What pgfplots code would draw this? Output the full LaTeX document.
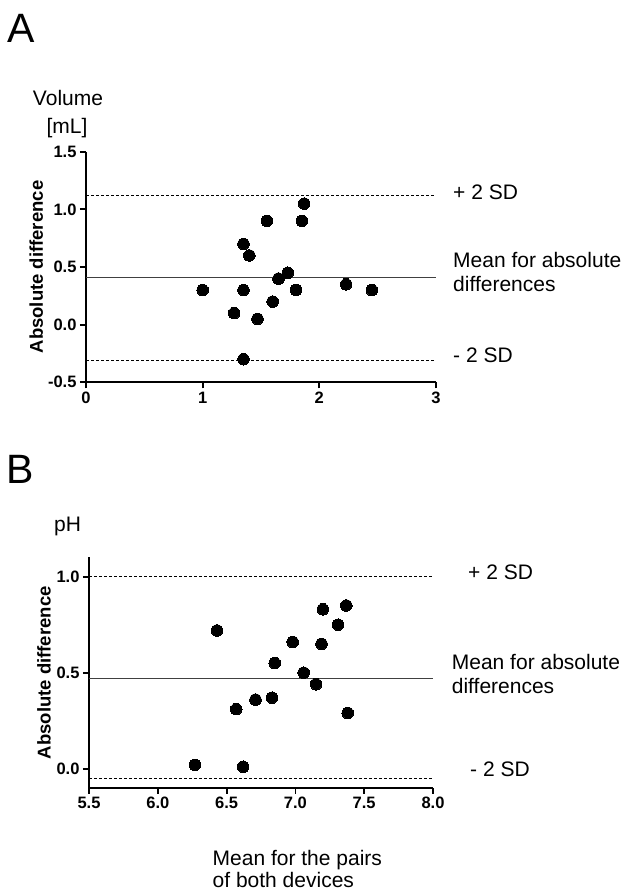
\documentclass[border=0pt]{standalone}
\usepackage{fontspec}
\setmainfont{Liberation Sans}
\usepackage{pgfplots}
\usepackage{pgfplotstable}
\pgfplotsset{compat=1.18}

\pgfplotstableread{
x y
1.00 0.30
1.27 0.10
1.35 0.70
1.35 0.30
1.35 -0.30
1.40 0.60
1.47 0.05
1.55 0.90
1.60 0.20
1.65 0.40
1.73 0.45
1.80 0.30
1.85 0.90
1.87 1.05
2.23 0.35
2.45 0.30
}\dataA

\pgfplotstableread{
x y
6.27 0.02
6.43 0.72
6.57 0.31
6.62 0.01
6.71 0.36
6.83 0.37
6.85 0.55
6.98 0.66
7.06 0.50
7.15 0.44
7.19 0.65
7.20 0.83
7.31 0.75
7.37 0.85
7.38 0.29
}\dataB

\pgfplotsset{
 gp/.style={
  scale only axis, clip=false,
  axis lines*=left,
  axis line style={line width=1.8pt},
  tick style={line width=1.8pt, black},
  major tick length=6pt,
  tick align=outside,
  tick label style={font=\fontsize{16.5}{19}\selectfont\bfseries},
 },
 dots/.style={only marks, mark=*, mark size=5.8pt, mark options={fill=black, draw=black, line width=0pt}},
 sd/.style={black, line width=0.8pt, dash pattern=on 3pt off 2pt, mark=none},
 mn/.style={black!75, line width=1pt, mark=none},
}

\newcommand{\txt}{\fontsize{21}{24}\selectfont}

\begin{document}
\begin{tikzpicture}[x=1pt,y=1pt]
\useasboundingbox (0,0) rectangle (630,892);

% Panel A
\begin{axis}[gp, at={(86pt,509.7pt)}, anchor=south west,
  width=350pt, height=230.6pt,
  xmin=0, xmax=3, ymin=-0.5, ymax=1.5,
  xtick={0,1,2,3}, xticklabels={0,1,2,3},
  ytick={-0.5,0,0.5,1,1.5}, yticklabels={-0.5,0.0,0.5,1.0,1.5}]
\addplot[sd] coordinates {(0,1.121) (3,1.121)};
\addplot[mn] coordinates {(0,0.405) (3,0.405)};
\addplot[sd] coordinates {(0,-0.309) (3,-0.309)};
\addplot[dots] table[x=x,y=y] {\dataA};
\node[rotate=90, anchor=base, inner sep=0, font=\fontsize{18.5}{21}\selectfont\bfseries] at (axis cs:-0.3686,0.5) {Absolute difference};
\end{axis}

% Panel B
\begin{axis}[gp, at={(89pt,104.1pt)}, anchor=south west,
  width=344pt, height=230.4pt,
  xmin=5.5, xmax=8.0, ymin=-0.1, ymax=1.1,
  xtick={5.5,6,6.5,7,7.5,8}, xticklabels={5.5,6.0,6.5,7.0,7.5,8.0},
  ytick={0,0.5,1}, yticklabels={0.0,0.5,1.0}]
\addplot[sd] coordinates {(5.5,1.0) (8,1.0)};
\addplot[mn] coordinates {(5.5,0.469) (8,0.469)};
\addplot[sd] coordinates {(5.5,-0.049) (8,-0.049)};
\addplot[dots] table[x=x,y=y] {\dataB};
\node[rotate=90, anchor=base, inner sep=0, font=\fontsize{18.5}{21}\selectfont\bfseries] at (axis cs:5.2214,0.5) {Absolute difference};
\end{axis}

% Texts
\node[anchor=base west, inner sep=0, font=\fontsize{41}{45}\selectfont] at (7,849) {A};
\node[anchor=base west, inner sep=0, font=\fontsize{41}{45}\selectfont] at (6,408) {B};
\node[anchor=base, inner sep=0, font=\txt] at (68,786) {Volume};
\node[anchor=base, inner sep=0, font=\txt] at (67,758.7) {[mL]};
\node[anchor=base west, inner sep=0, font=\txt] at (54,360) {pH};

\node[anchor=base west, inner sep=0, font=\txt] at (453,692.7) {+ 2 SD};
\node[anchor=base west, inner sep=0, font=\txt] at (453,624) {Mean for absolute};
\node[anchor=base west, inner sep=0, font=\txt] at (453,600.3) {differences};
\node[anchor=base west, inner sep=0, font=\txt] at (453,529) {- 2 SD};

\node[anchor=base west, inner sep=0, font=\txt] at (468,312.7) {+ 2 SD};
\node[anchor=base west, inner sep=0, font=\txt] at (451.7,222.7) {Mean for absolute};
\node[anchor=base west, inner sep=0, font=\txt] at (451.7,198.7) {differences};
\node[anchor=base west, inner sep=0, font=\txt] at (470,115.3) {- 2 SD};

\node[anchor=base west, inner sep=0, font=\txt] at (212.5,27) {Mean for the pairs};
\node[anchor=base west, inner sep=0, font=\txt] at (212.5,5) {of both devices};
\end{tikzpicture}
\end{document}
